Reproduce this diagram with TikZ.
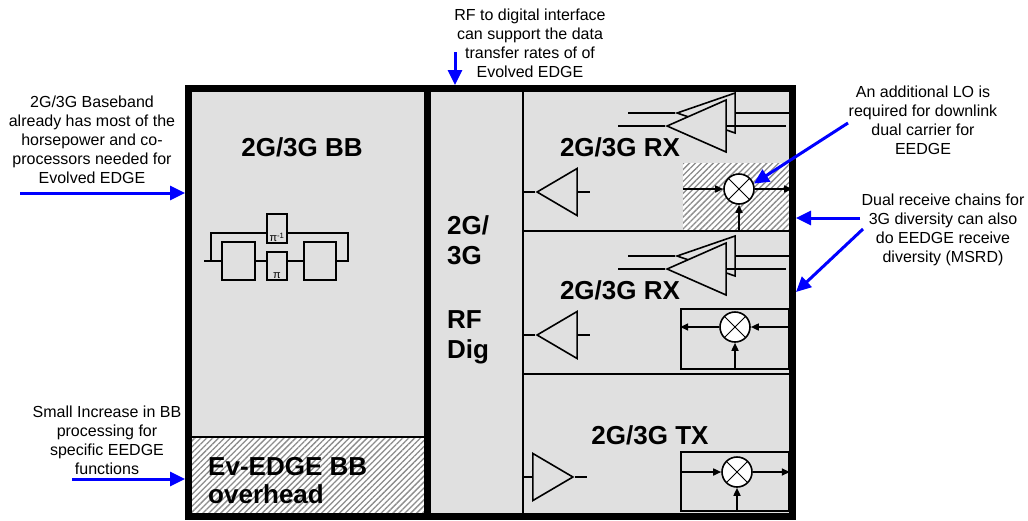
\documentclass[tikz,border=0pt]{standalone}
\usepackage{fontspec}
\setmainfont{Liberation Sans}
\usetikzlibrary{arrows.meta,patterns.meta,shapes.geometric}

\begin{document}
\begin{tikzpicture}[x=1pt,y=-1pt]
        \tikzstyle{note}=[align=center, inner sep=0pt, font=\fontsize{16}{19}\selectfont]
        \tikzstyle{title}=[inner sep=0pt, font=\fontsize{26}{29}\selectfont\bfseries]
        \tikzstyle{callout}=[draw=blue, line width=3pt, -{Triangle[length=15pt,width=14pt]}]
        \tikzstyle{frame}=[draw=black, line width=7pt]
        \tikzstyle{wire}=[draw=black, line width=1.6pt]
        \tikzstyle{hatch}=[preaction={fill=white}, pattern={Lines[angle=45, distance=4.2pt, line width=1.3pt]}, pattern color=black!45]
        \tikzstyle{sig}=[wire, -{Triangle[length=8pt,width=7pt]}]
        \tikzstyle{codec}=[rectangle, wire, inner sep=0pt, minimum width=33pt, minimum height=38pt]
        \tikzstyle{perm}=[rectangle, wire, fill=black!12, inner sep=0pt, minimum width=20pt, minimum height=28pt]
        \tikzstyle{mixer}=[circle, wire, fill=white, minimum size=30pt, inner sep=0pt,
          path picture={\draw[line width=0.8pt] (path picture bounding box.north west) -- (path picture bounding box.south east)
            (path picture bounding box.south west) -- (path picture bounding box.north east);}]
        \tikzstyle{amp}=[isosceles triangle, isosceles triangle stretches, wire, inner sep=0pt, minimum height=40pt, minimum width=47pt]
        \tikzstyle{lna}=[isosceles triangle, isosceles triangle stretches, wire, fill=black!12, inner sep=0pt, shape border rotate=180]
        \tikzstyle{mixbox}=[rectangle, inner sep=0pt, minimum width=108pt, minimum height=60pt]

        \useasboundingbox (0,0) rectangle (1028,520);

        % blocks
        \fill[black!12] (188,88) rectangle (792,516);
        \fill[hatch] (188,437) rectangle (427,516);
        \coordinate (rfR) at (523,88);
        \coordinate (edgeR) at (792,88);

        \node[title] (bbT) at (302,147) {2G/3G BB};
        \node[title, anchor=west, align=left, font=\fontsize{26}{28}\selectfont\bfseries] (ovT) at (208,481) {Ev-EDGE BB\\overhead};
        \node[title, anchor=west, align=left, font=\fontsize{26}{30}\selectfont\bfseries] (rfT1) at (447,240) {2G/\\3G};
        \node[title, anchor=west, align=left, font=\fontsize{26}{30}\selectfont\bfseries] (rfT2) at (447,337) {RF\\Dig};
        \node[title] (rxAT) at (620,147) {2G/3G RX};
        \node[title] (rxBT) at (620,290) {2G/3G RX};
        \node[title] (txT) at (650,435) {2G/3G TX};

        % turbo codec
        \node[codec] (enc1) at (238.5,261) {};
        \node[perm] (ilv) at (277,266) {};
        \node[perm, minimum height=29pt] (deilv) at (277,228.5) {};
        \node[codec, minimum width=32pt] (enc2) at (320,261) {};
        \node[anchor=south, inner sep=1.5pt, font=\fontsize{11}{11}\selectfont] at (ilv.south) {π};
        \node[anchor=south, inner sep=1.5pt, font=\fontsize{11}{11}\selectfont] at (deilv.south) {π\textsuperscript{-1}};
        \coordinate (cin) at (204,261);
        \coordinate (fbL) at (211,233);
        \coordinate (fbR) at (348,233);
        \draw[wire] (cin) -- (enc1.west) (enc1.east) -- (ilv.west |- enc1) (ilv.east |- enc2) -- (enc2.west);
        \draw[wire] (enc2.east) -| (fbR) -- (deilv.east |- fbR) (deilv.west |- fbL) -- (fbL) |- (cin);

        % receive chains
        \foreach \dy/\s in {0/A,143/B} {
          \node[amp, shape border rotate=180, anchor=apex] (amp\s) at (535,192+\dy) {};
          \draw[wire] (amp\s.apex) -- (amp\s.apex -| rfR) (amp\s.lower side) -- ++(12,0);
          \node[lna, minimum height=58pt, minimum width=40pt, anchor=apex] (back\s) at (675,113+\dy) {};
          \draw[wire] (back\s.apex) -- ++(-47,0) (back\s.lower side) -- (back\s.lower side -| edgeR);
          \node[lna, minimum height=59pt, minimum width=52pt, anchor=apex] (lna\s) at (665,126+\dy) {};
          \draw[wire] (lna\s.apex) -- ++(-47,0) (lna\s.lower side) -- ++(59,0);
        }
        \node[amp, anchor=apex] (ampC) at (575,477) {};
        \draw[wire] (ampC.lower side) -- (ampC.lower side -| rfR) (ampC.apex) -- ++(12,0);

        % mixers
        \node[mixbox, hatch, minimum width=109pt, minimum height=68pt] (boxA) at (737.5,197) {};
        \node[mixer] (mixA) at (739,189) {};
        \draw[sig] (boxA.west |- mixA) -- (mixA.west);
        \draw[sig] (mixA.east) -- (boxA.east |- mixA);
        \draw[sig] (boxA.south -| mixA) -- (mixA.south);

        \node[mixbox, wire] (boxB) at (735,339) {};
        \node[mixer] (mixB) at (735,327) {};
        \draw[sig] (boxB.east |- mixB) -- (mixB.east);
        \draw[sig] (mixB.west) -- (boxB.west |- mixB);
        \draw[sig] (boxB.south -| mixB) -- (mixB.south);

        \node[mixbox, wire, minimum height=59pt] (boxC) at (735,481.5) {};
        \node[mixer] (mixC) at (737,472) {};
        \draw[sig] (boxC.west |- mixC) -- (mixC.west);
        \draw[sig] (mixC.east) -- (boxC.east |- mixC);
        \draw[sig] (boxC.south -| mixC) -- (mixC.south);

        % dividers and frame
        \draw[wire] (188,437) -- (427,437);
        \draw[wire] (rfR) -- (523,516);
        \draw[wire] (523,231) -- (792,231);
        \draw[wire] (523,374) -- (792,374);
        \draw[frame] (188,88) rectangle (792,516);
        \draw[frame] (427,88) -- (427,516);

        % callouts
        \node[note] (noteBB) at (92,140) {2G/3G Baseband\\already has most of the\\horsepower and co-\\processors needed for\\Evolved EDGE};
        \node[note] (noteIF) at (530,43) {RF to digital interface\\can support the data\\transfer rates of of\\Evolved EDGE};
        \node[note] (noteOH) at (107,440) {Small Increase in BB\\processing for\\specific EEDGE\\functions};
        \node[note] (noteLO) at (923,120) {An additional LO is\\required for downlink\\dual carrier for\\EEDGE};
        \node[note] (noteDiv) at (943,230) {Dual receive chains for\\3G diversity can also\\do EEDGE receive\\diversity (MSRD)};

        \coordinate (fromBB) at (20,193);   \coordinate (toBB) at (185,193);
        \coordinate (fromIF) at (455,52);   \coordinate (toIF) at (455,85);
        \coordinate (fromOH) at (72,479);   \coordinate (toOH) at (185,479);
        \coordinate (fromLO) at (848,123);
        \coordinate (fromDv1) at (860,218); \coordinate (toDv1) at (796,218);
        \coordinate (fromDv2) at (863,229); \coordinate (toDv2) at (796,292);
        \draw[callout] (fromBB) -- (toBB);
        \draw[callout] (fromIF) -- (toIF);
        \draw[callout] (fromOH) -- (toOH);
        \draw[callout] (fromLO) -- (mixA.20);
        \draw[callout] (fromDv1) -- (toDv1);
        \draw[callout] (fromDv2) -- (toDv2);
\end{tikzpicture}
\end{document}
